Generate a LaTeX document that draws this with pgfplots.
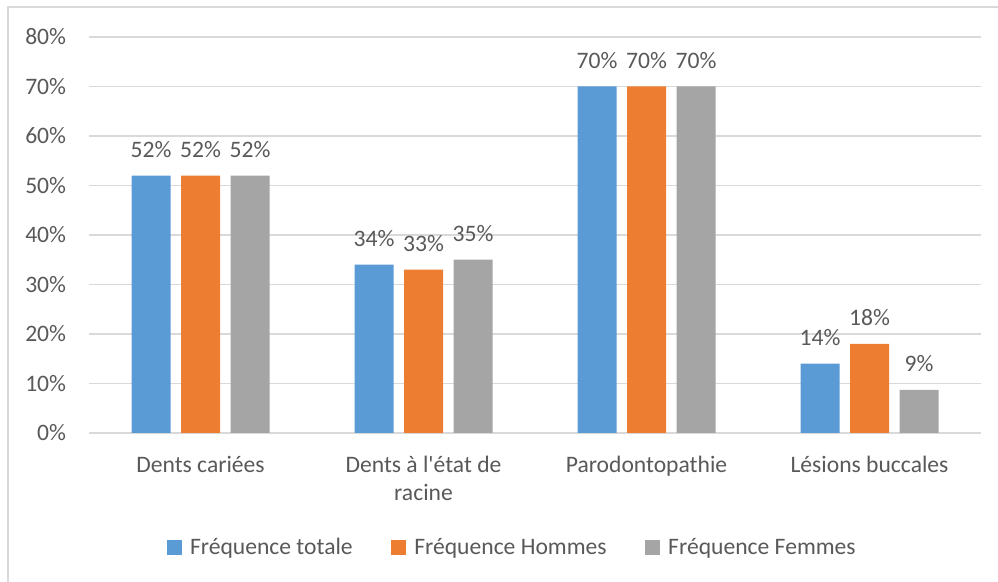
\documentclass[border=0pt]{standalone}
\usepackage{fontspec}
\setmainfont{Carlito}
\usepackage{pgfplots}
\pgfplotsset{compat=1.18}
\definecolor{cblue}{HTML}{5B9BD5}
\definecolor{corange}{HTML}{ED7D31}
\definecolor{cgray}{HTML}{A5A5A5}
\definecolor{txt}{HTML}{595959}
\definecolor{gridc}{HTML}{D9D9D9}
\newcommand{\cfont}{\fontsize{17.7pt}{21pt}\selectfont}
\newcommand{\sq}{{\XeTeXglyph\XeTeXcharglyph"0027\relax}}
\pgfplotsset{
  sq/.style={legend image code/.code={\fill[##1] (0pt,-5.6pt) rectangle (11.2pt,5.6pt);}},
}
\begin{document}
\begin{tikzpicture}[x=0.75pt,y=0.75pt]
\useasboundingbox (0,0) rectangle (998,581);
\draw[gridc, line width=1.2pt] (8,-10) rectangle (1010,574);
\begin{axis}[
  at={(66.75pt,111pt)}, anchor=south west,
  scale only axis, width=669pt, height=297pt,
  ybar=7.875pt, bar width=29.25pt,
  ymin=0, ymax=80, xmin=-0.5, xmax=3.5,
  xtick={0,1,2,3},
  xticklabels={Dents cariées,{Dents à l\sq état de\\racine},Parodontopathie,Lésions buccales},
  ytick={0,10,20,30,40,50,60,70,80},
  yticklabels={0\%,10\%,20\%,30\%,40\%,50\%,60\%,70\%,80\%},
  ymajorgrids, grid style={gridc, line width=1.1pt},
  axis line style={draw=none}, major tick length=0pt,
  tick label style={font=\cfont, text=txt},
  xticklabel style={align=center, anchor=north, inner sep=0pt, yshift=-17pt},
  yticklabel style={anchor=east, inner sep=0pt, xshift=-17pt},
  /pgf/number format/assume math mode=true,
  nodes near coords={\pgfmathprintnumber[precision=0,assume math mode=true]{\pgfplotspointmeta}\%},
  nodes near coords style={font=\cfont, text=txt, anchor=south, inner sep=0pt, yshift=13.5pt},
  legend style={at={(0.475,-0.288)}, anchor=center, draw=none, fill=none,
    font=\cfont, text=txt, legend columns=3,
    /tikz/every odd column/.append style={column sep=4pt},
    /tikz/every even column/.append style={column sep=27pt}},
  clip=false,
]
\addplot[fill=cblue, draw=none, sq] coordinates {(0,52) (1,34) (2,70) (3,14)};
\addplot[fill=corange, draw=none, sq] coordinates {(0,52) (1,33) (2,70) (3,18)};
\addplot[fill=cgray, draw=none, sq] coordinates {(0,52) (1,35) (2,70) (3,8.7)};
\legend{Fréquence totale, Fréquence Hommes, Fréquence Femmes}
\end{axis}
\end{tikzpicture}
\end{document}
